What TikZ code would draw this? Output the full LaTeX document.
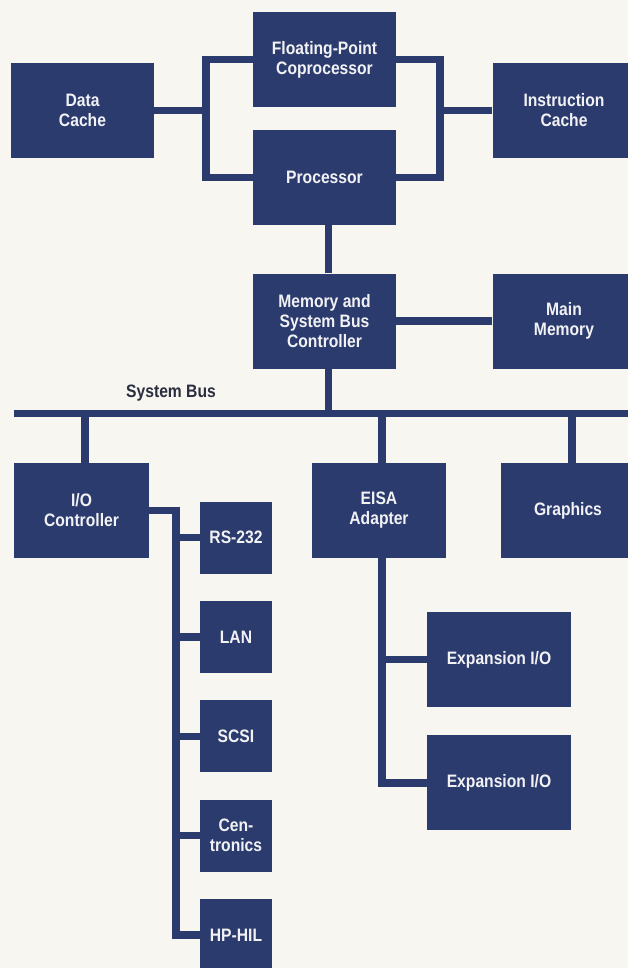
\documentclass[tikz,border=0pt]{standalone}
\usepackage{fontspec}
\newfontfamily\hpfont{Liberation Sans}[FakeStretch=0.87]
\usetikzlibrary{positioning}
\definecolor{HPNavy}{HTML}{2B3B6E}
\definecolor{HPPaper}{HTML}{F7F6F1}
\definecolor{HPInk}{HTML}{2A2D3E}
\definecolor{HPWhite}{HTML}{F2F2F5}

\begin{document}
\begin{tikzpicture}[
  x=1pt, y=-1pt,
  node distance=27pt,
  unit/.style={fill=HPNavy, text=HPWhite, inner sep=0pt, align=center, minimum width=143pt, minimum height=95pt, font=\hpfont\bfseries\fontsize{18}{20}\selectfont},
  port/.style={unit, minimum width=72pt, minimum height=72pt},
  link/.style={draw=HPNavy, line width=7.5pt}
]
\useasboundingbox (0,0) rectangle (628,968);
\fill[HPPaper] (0,0) rectangle (628,968);
\clip (0,0) rectangle (628,968);

% processor and caches
\node[unit] (dcache) at (82.5,110.5) {Data\\Cache};
\node[unit] (fpu) at (324.5,59.5) {Floating-Point\\Coprocessor};
\node[unit] (icache) at (564,110.5) {Instruction\\Cache};
\node[unit] (cpu) at (324.5,177.5) {Processor};
\node[unit] (mbc) at (324.5,321) {Memory and\\System Bus\\Controller};
\node[unit] (mainmem) at (564,321) {Main\\Memory};

% system bus
\node[font=\hpfont\bfseries\fontsize{18}{20}\selectfont, text=HPInk] (buslabel) at (171,393) {System Bus};
\coordinate (busW) at (14,413.5);
\coordinate (busE) at (640,413.5);

% i/o side
\node[unit, minimum width=135pt] (ioc) at (81.5,510.5) {I/O\\Controller};
\node[unit, minimum width=134pt] (eisa) at (379,510.5) {EISA\\Adapter};
\node[unit, minimum width=134pt] (gfx) at (568,510.5) {Graphics};
\node[port] (rs232) at (236,537.5) {RS-232};
\node[port, below=of rs232] (lan) {LAN};
\node[port, below=of lan] (scsi) {SCSI};
\node[port, below=of scsi] (cent) {Cen-\\tronics};
\node[port, below=of cent] (hphil) {HP-HIL};
\node[unit, minimum width=144pt] (exp1) at (499,659.5) {Expansion I/O};
\node[unit, minimum width=144pt, below=28pt of exp1] (exp2) {Expansion I/O};

\draw[link] (fpu.west) -- ++(-47,0) coordinate (dtap) |- (cpu.west);
\draw[link] (fpu.east) -- ++(44,0) coordinate (itap) |- (cpu.east);
\draw[link] (dcache.east) -- (dcache.east -| dtap);
\draw[link] (icache.west) -- (icache.west -| itap);
\draw[link] ([xshift=4pt]cpu.south) -- ([xshift=4pt]mbc.north);
\draw[link] (mbc.east) -- (mainmem.west);
\draw[link] (busW) -- (busE);
\draw[link] ([xshift=4pt]mbc.south) -- ([xshift=4pt]mbc.south |- busW);
\foreach \u/\s in {ioc/3.5,eisa/3,gfx/4}
  \draw[link] ([xshift=\s pt]\u.north) -- ([xshift=\s pt]\u.north |- busW);
\draw[link] (ioc.east) -- ++(27,0) coordinate (iotap) |- (hphil.west);
\foreach \p in {rs232,lan,scsi,cent}
  \draw[link] (\p.west -| iotap) -- (\p.west);
\draw[link] ([xshift=3pt]eisa.south) |- (exp2.west);
\draw[link] ([xshift=3pt]eisa.south |- exp1.west) -- (exp1.west);
\end{tikzpicture}
\end{document}
